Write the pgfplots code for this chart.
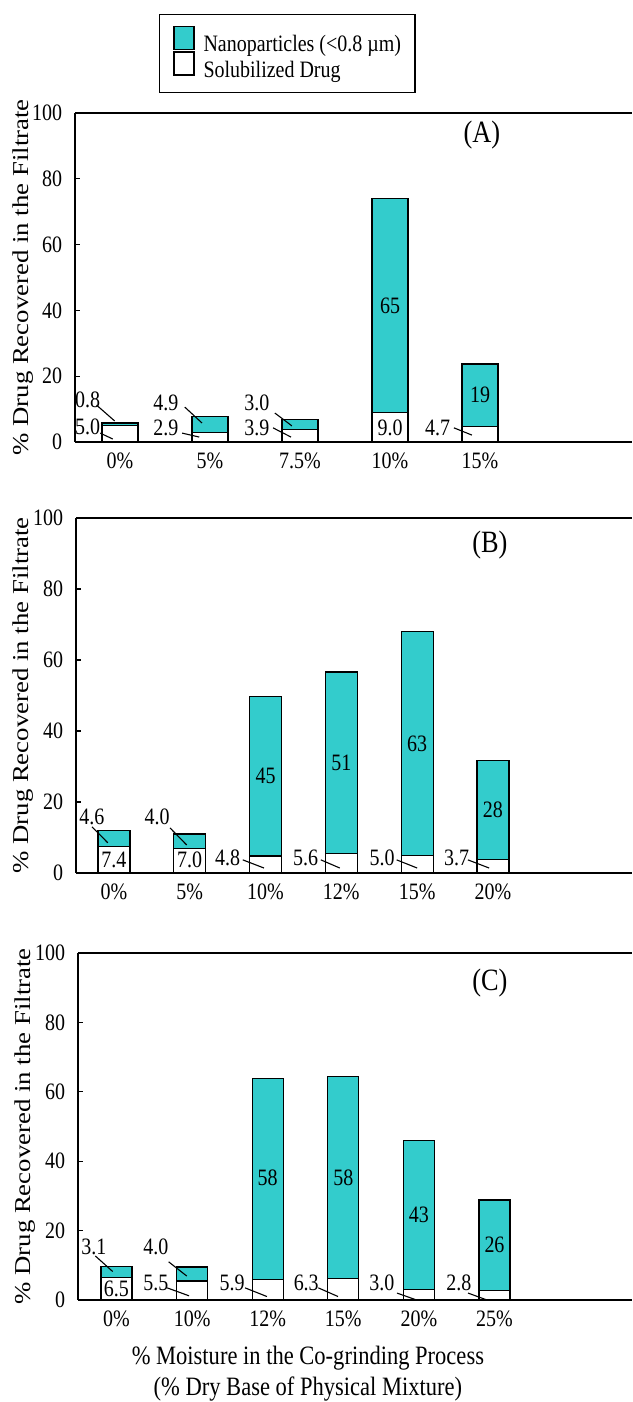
\documentclass[border=0pt]{standalone}
\usepackage{fontspec}
\setmainfont{Liberation Serif}[FakeStretch=0.85]
\newfontfamily\ylabfont{Liberation Serif}[FakeStretch=1.18]
\usepackage{pgfplots}
\pgfplotsset{compat=1.18}
\usepackage{pgfplotstable}
\definecolor{nano}{RGB}{51,204,204}

\pgfplotstableread{
x sol nano
0 5.0 0.8
1 2.9 4.9
2 3.9 3.0
3 9.0 65
4 4.7 19
}\dataA
\pgfplotstableread{
x sol nano
0 7.4 4.6
1 7.0 4.0
2 4.8 45
3 5.6 51
4 5.0 63
5 3.7 28
}\dataB
\pgfplotstableread{
x sol nano
0 6.5 3.1
1 5.5 4.0
2 5.9 58
3 6.3 58
4 3.0 43
5 2.8 26
}\dataC

\pgfplotsset{
  panel/.style={
    scale only axis, anchor=south west,
    ymin=0, ymax=100, ytick={0,20,40,60,80,100},
    ybar stacked,
    axis x line*=bottom, axis y line*=left,
    axis line style={line width=0.8pt},
    tick align=inside, major tick length=2.5pt,
    xtick style={draw=none}, ytick style={line width=0.6pt, black},
    xtick=data,
    /pgf/number format/assume math mode=true,
    yticklabel style={xshift=-2.3pt},
    xticklabel style={yshift=-1.5pt},
    ylabel={\ylabfont\fontsize{11.35}{13}\selectfont \% Drug Recovered in the Filtrate},
    clip=false,
    every axis plot/.append style={draw=black, line width=0.6pt},
  },
  ylabpos/.style={every axis y label/.style={at={(axis description cs:#1,0.5)}, rotate=90, anchor=center}},
}
\tikzset{
  lbl/.style={inner sep=0pt, anchor=center},
  lead/.style={line width=0.55pt},
  plab/.style={inner sep=0pt, anchor=center, font=\fontsize{15.5}{18}\selectfont},
}

\newcommand\annA{%
\node[lbl] at (axis cs:-0.36,12.8) {0.8};
\draw[lead] (axis cs:-0.26,11.2) -- (axis cs:-0.06,6.4);
\node[lbl] at (axis cs:-0.36,4.6) {5.0};
\draw[lead] (axis cs:-0.22,2.7) -- (axis cs:-0.08,0.9);
\node[lbl] at (axis cs:0.51,11.8) {4.9};
\draw[lead] (axis cs:0.72,10.6) -- (axis cs:0.91,5.8);
\node[lbl] at (axis cs:0.51,4.2) {2.9};
\draw[lead] (axis cs:0.69,2.7) -- (axis cs:0.88,1.5);
\node[lbl] at (axis cs:1.52,11.8) {3.0};
\draw[lead] (axis cs:1.72,8.8) -- (axis cs:1.91,4.9);
\node[lbl] at (axis cs:1.52,4.2) {3.9};
\draw[lead] (axis cs:1.70,4.3) -- (axis cs:1.90,1.5);
\node[lbl] at (axis cs:3,4.2) {9.0};
\node[lbl] at (axis cs:3,41.5) {65};
\node[lbl] at (axis cs:3.53,4.2) {4.7};
\draw[lead] (axis cs:3.71,4.3) -- (axis cs:3.91,2.1);
\node[lbl] at (axis cs:4,14.2) {19};
\node[plab] at (axis cs:4.02,93.3) {(A)};
\draw[line width=0.8pt] (rel axis cs:0,1) -- (rel axis cs:1,1);
}
\newcommand\annB{%
\node[lbl] at (axis cs:-0.29,15.8) {4.6};
\draw[lead] (axis cs:-0.29,13.0) -- (axis cs:-0.08,8.5);
\node[lbl] at (axis cs:0,3.7) {7.4};
\node[lbl] at (axis cs:0.57,15.8) {4.0};
\draw[lead] (axis cs:0.74,12.7) -- (axis cs:0.96,7.9);
\node[lbl] at (axis cs:1,3.7) {7.0};
\node[lbl] at (axis cs:1.50,4.2) {4.8};
\draw[lead] (axis cs:1.70,3.7) -- (axis cs:1.98,1.4);
\node[lbl] at (axis cs:2,27.3) {45};
\node[lbl] at (axis cs:2.53,4.2) {5.6};
\draw[lead] (axis cs:2.73,3.7) -- (axis cs:2.98,1.4);
\node[lbl] at (axis cs:3,31.1) {51};
\node[lbl] at (axis cs:3.54,4.2) {5.0};
\draw[lead] (axis cs:3.73,3.7) -- (axis cs:4.0,1.4);
\node[lbl] at (axis cs:4,36.5) {63};
\node[lbl] at (axis cs:4.52,4.2) {3.7};
\draw[lead] (axis cs:4.67,3.7) -- (axis cs:4.95,1.4);
\node[lbl] at (axis cs:5,17.7) {28};
\node[plab] at (axis cs:4.96,92.4) {(B)};
\draw[line width=0.8pt] (rel axis cs:0,1) -- (rel axis cs:1,1);
}
\newcommand\annC{%
\node[lbl] at (axis cs:-0.30,15.4) {3.1};
\draw[lead] (axis cs:-0.28,12.7) -- (axis cs:-0.05,8.2);
\node[lbl] at (axis cs:0,3.2) {6.5};
\node[lbl] at (axis cs:0.52,15.4) {4.0};
\draw[lead] (axis cs:0.69,11.0) -- (axis cs:0.93,6.9);
\node[lbl] at (axis cs:0.52,5.0) {5.5};
\draw[lead] (axis cs:0.67,3.5) -- (axis cs:0.96,1.2);
\node[lbl] at (axis cs:1.53,4.9) {5.9};
\draw[lead] (axis cs:1.70,3.5) -- (axis cs:1.99,1.0);
\node[lbl] at (axis cs:2,35.3) {58};
\node[lbl] at (axis cs:2.51,4.9) {6.3};
\draw[lead] (axis cs:2.67,3.5) -- (axis cs:2.93,1.0);
\node[lbl] at (axis cs:3,35.3) {58};
\node[lbl] at (axis cs:3.51,4.9) {3.0};
\draw[lead] (axis cs:3.71,2.0) -- (axis cs:3.97,0);
\node[lbl] at (axis cs:4,24.5) {43};
\node[lbl] at (axis cs:4.53,4.9) {2.8};
\draw[lead] (axis cs:4.65,2.0) -- (axis cs:4.90,0);
\node[lbl] at (axis cs:5,15.8) {26};
\node[plab] at (axis cs:4.94,91.4) {(C)};
\draw[line width=0.8pt] (rel axis cs:0,1) -- (rel axis cs:1,1);
}

\begin{document}
\fontsize{11.75}{14}\selectfont
\begin{tikzpicture}
% ---------------- Panel A ----------------
\begin{axis}[panel, ylabpos=-0.0934,
  at={(37.5pt,480pt)}, width=278.5pt, height=164.5pt,
  xmin=-0.5, xmax=5.689, bar width=18pt,
  xticklabels={0\%,5\%,7.5\%,10\%,15\%},
  reverse legend,
  legend style={at={(0.381,1)}, anchor=south, yshift=10pt,
    draw=black, line width=0.6pt, inner xsep=7pt, inner ysep=5.75pt,
    row sep=-2pt, column sep=4.5pt, nodes={inner sep=0pt}},
  legend cell align=left,
  legend image code/.code={\draw[#1] (0pt,-2pt) rectangle (10pt,9.5pt);},
  after end axis/.code={\annA},
]
\addplot[fill=white] table[x=x,y=sol]{\dataA};
\addlegendentry{Solubilized Drug}
\addplot[fill=nano] table[x=x,y=nano]{\dataA};
\addlegendentry{Nanoparticles (<0.8 µm)}
\end{axis}
% ---------------- Panel B ----------------
\begin{axis}[panel, ylabpos=-0.0953,
  at={(38pt,264.5pt)}, width=278pt, height=177.5pt,
  xmin=-0.5, xmax=6.835, bar width=16pt,
  xticklabels={0\%,5\%,10\%,12\%,15\%,20\%},
  after end axis/.code={\annB},
]
\addplot[fill=white] table[x=x,y=sol]{\dataB};
\addplot[fill=nano] table[x=x,y=nano]{\dataB};
\end{axis}
% ---------------- Panel C ----------------
\begin{axis}[panel, ylabpos=-0.0957,
  at={(39pt,51pt)}, width=277pt, height=173.5pt,
  xmin=-0.509, xmax=6.819, bar width=15.5pt,
  xticklabels={0\%,10\%,12\%,15\%,20\%,25\%},
  xlabel={\% Moisture in the Co-grinding Process\\(\% Dry Base of Physical Mixture)},
  every axis x label/.style={at={(axis description cs:0.415,0)}, anchor=north,
    yshift=-19pt, align=center, font=\fontsize{13.25}{15.5}\selectfont},
  after end axis/.code={\annC},
]
\addplot[fill=white] table[x=x,y=sol]{\dataC};
\addplot[fill=nano] table[x=x,y=nano]{\dataC};
\end{axis}
\pgfresetboundingbox
\path (0,0) rectangle (316pt,701pt);
\end{tikzpicture}
\end{document}
